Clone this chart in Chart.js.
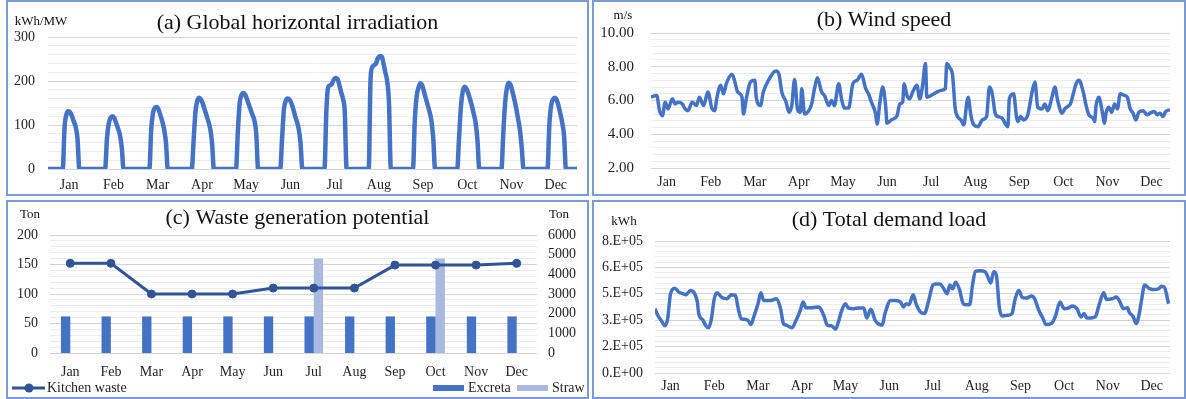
<!DOCTYPE html>
<html>
<head>
<meta charset="utf-8">
<script src="https://cdn.jsdelivr.net/npm/chart.js@4.4.1/dist/chart.umd.min.js"></script>
<style>
  html, body { margin: 0; padding: 0; background: #fff; }
  body { width: 1186px; height: 399px; position: relative; overflow: hidden; }
  .panel { position: absolute; box-sizing: border-box; border: 2px solid #7B9BD3; }
  .panel canvas { position: absolute; left: 0; top: 0; }
</style>
</head>
<body>
<div class="panel" style="left:6px;top:0;width:583px;height:196px"><canvas id="chartA" width="579" height="192"></canvas></div>
<div class="panel" style="left:592px;top:0;width:594px;height:196px"><canvas id="chartB" width="590" height="192"></canvas></div>
<div class="panel" style="left:6px;top:200px;width:583px;height:199px"><canvas id="chartC" width="579" height="195"></canvas></div>
<div class="panel" style="left:592px;top:200px;width:594px;height:199px"><canvas id="chartD" width="590" height="195"></canvas></div>
<script>
const months = ['Jan', 'Feb', 'Mar', 'Apr', 'May', 'Jun', 'Jul', 'Aug', 'Sep', 'Oct', 'Nov', 'Dec'];

// (a) typical-day irradiation for each month, hour 0..23 (kWh/MW)
const ghiJan = [0,0,0,0,0,0,0,0,0,95,124,131,129,120,108,96,70,0,0,0,0,0,0,0];
const ghiFeb = [0,0,0,0,0,0,0,0,70,104,117,120,116,104,92,78,50,0,0,0,0,0,0,0];
const ghiMar = [0,0,0,0,0,0,0,0,90,128,139,141,135,122,108,90,60,0,0,0,0,0,0,0];
const ghiApr = [0,0,0,0,0,0,0,65,130,155,162,158,148,135,122,108,92,60,0,0,0,0,0,0];
const ghiMay = [0,0,0,0,0,0,0,85,150,168,173,169,158,146,134,122,110,80,0,0,0,0,0,0];
const ghiJun = [0,0,0,0,0,0,0,70,135,155,160,158,150,137,122,108,92,60,0,0,0,0,0,0];
const ghiJul = [0,0,0,0,0,0,0,130,186,190,193,203,207,205,192,175,160,130,0,0,0,0,0,0];
const ghiAug = [0,0,0,0,0,0,0,205,232,236,240,252,256,256,240,220,200,150,0,0,0,0,0,0];
const ghiSep = [0,0,0,0,0,0,0,110,165,185,195,190,176,160,145,130,110,70,0,0,0,0,0,0];
const ghiOct = [0,0,0,0,0,0,0,70,140,176,187,183,172,158,143,125,105,65,0,0,0,0,0,0];
const ghiNov = [0,0,0,0,0,0,0,80,150,185,196,190,176,158,138,115,90,50,0,0,0,0,0,0];
const ghiDec = [0,0,0,0,0,0,0,0,100,145,158,162,157,143,125,105,75,0,0,0,0,0,0,0];

// (b) wind speed (m/s) by day of year
const windDay = [
  0, 4, 6, 8, 10, 12, 15, 17, 19, 22, 24, 26, 29, 32, 34, 37, 40, 43, 45, 46,
  49, 51, 53, 57, 59, 61, 64, 65, 67, 70, 73, 74, 77, 79, 83, 86, 88, 90, 92, 95,
  97, 99, 101, 103, 105, 106, 108, 111, 113, 115, 117, 120, 122, 125, 127, 129, 132, 134, 136, 139,
  142, 145, 148, 151, 153, 155, 158, 159, 161, 163, 165, 166, 169, 173, 175, 177, 178, 180, 182, 184,
  187, 189, 191, 193, 194, 197, 201, 204, 207, 208, 210, 212, 214, 216, 218, 220, 222, 223, 225, 227,
  230, 233, 236, 238, 240, 242, 244, 247, 249, 251, 252, 255, 257, 258, 260, 262, 265, 268, 270, 272,
  275, 277, 279, 282, 284, 286, 289, 291, 294, 295, 297, 299, 301, 304, 306, 308, 311, 312, 313, 315,
  317, 319, 320, 322, 324, 326, 328, 330, 333, 335, 337, 339, 341, 343, 346, 349, 351, 354, 356, 358,
  360, 362, 365
];
const windSpeed = [
  6.2, 6.3, 5.4, 5.1, 5.9, 5.5, 6.1, 5.8, 5.9, 5.8, 5.5, 5.4, 5.9, 5.7, 6.2, 5.7, 6.5, 5.5, 5.4, 6.0,
  6.9, 6.4, 7.0, 7.55, 7.1, 6.5, 6.2, 5.2, 6.1, 7.1, 7.2, 6.2, 5.7, 6.5, 7.25, 7.65, 7.75, 7.55, 6.5, 5.9,
  5.3, 5.7, 7.25, 5.5, 5.3, 6.7, 5.2, 5.4, 5.8, 6.7, 7.35, 6.5, 6.3, 5.7, 6.0, 5.7, 7.0, 6.1, 5.55, 5.55,
  7.0, 7.2, 7.55, 6.7, 6.4, 5.9, 5.2, 4.6, 5.9, 6.8, 5.7, 4.65, 4.85, 5.1, 5.8, 5.9, 7.0, 6.3, 6.1, 6.5,
  6.9, 6.1, 6.9, 8.2, 6.2, 6.3, 6.5, 6.6, 6.7, 8.2, 7.95, 7.55, 5.5, 5.0, 4.85, 4.55, 5.8, 6.2, 5.1, 4.55,
  4.45, 4.85, 5.05, 6.8, 6.4, 5.25, 5.05, 4.95, 4.65, 4.45, 6.1, 6.4, 5.05, 4.75, 5.05, 4.85, 5.15, 6.5, 7.1, 5.6,
  5.5, 5.8, 5.4, 6.2, 6.8, 6.0, 5.25, 5.5, 5.7, 5.8, 6.4, 7.0, 7.2, 6.5, 5.7, 5.15, 4.95, 4.75, 5.7, 6.2,
  5.5, 4.65, 5.25, 5.6, 5.3, 5.8, 5.5, 6.4, 6.3, 6.2, 5.5, 5.25, 4.85, 5.3, 5.4, 5.15, 5.25, 5.35, 5.15, 5.25,
  5.05, 5.35, 5.45
];

// (c) waste generation potential (Ton)
const kitchenWaste = [152, 152, 100, 100, 100, 110, 110, 110, 149, 149, 149, 152];
const excreta = [1860, 1860, 1860, 1860, 1860, 1860, 1860, 1860, 1860, 1860, 1860, 1860];
const straw = [null, null, null, null, null, null, 4800, null, null, 4800, null, null];

// (d) total demand load, in units of 1E+05 kWh, by day of year
const loadDay = [
  0, 2, 5, 7, 9, 11, 14, 17, 20, 22, 25, 27, 30, 31, 34, 36, 38, 40, 42, 44,
  47, 51, 54, 57, 59, 61, 63, 66, 68, 70, 73, 75, 77, 82, 86, 89, 91, 93, 97, 100,
  103, 105, 107, 111, 116, 118, 120, 122, 125, 128, 130, 132, 135, 137, 141, 144, 148, 150, 153, 156,
  158, 161, 163, 167, 170, 174, 176, 178, 180, 183, 185, 188, 191, 194, 197, 199, 202, 204, 207, 209,
  211, 213, 216, 218, 220, 223, 225, 227, 230, 234, 236, 238, 240, 242, 244, 246, 250, 253, 255, 258,
  260, 263, 267, 269, 272, 275, 277, 281, 284, 287, 290, 293, 296, 299, 302, 304, 306, 309, 312, 315,
  318, 320, 324, 327, 329, 332, 335, 336, 339, 341, 343, 345, 347, 350, 353, 357, 359, 361, 364
];
const loadE5 = [
  3.9, 3.5, 3.1, 2.86, 3.3, 4.8, 5.14, 4.9, 4.8, 4.74, 5.0, 4.94, 4.3, 3.6, 3.2, 2.86, 2.74, 3.3, 4.5, 4.86,
  4.6, 4.5, 4.74, 4.7, 3.9, 3.3, 3.26, 3.18, 2.94, 3.4, 4.2, 4.86, 4.4, 4.4, 4.5, 3.9, 3.0, 2.9, 2.74, 3.2,
  3.8, 4.3, 3.96, 3.96, 4.0, 3.8, 3.4, 2.9, 2.86, 2.66, 3.1, 3.7, 4.2, 3.94, 3.9, 3.94, 3.94, 3.34, 3.86, 3.2,
  3.0, 2.9, 3.6, 4.4, 4.4, 4.3, 4.0, 4.2, 4.14, 4.74, 4.2, 3.7, 3.6, 4.4, 5.34, 5.4, 5.4, 5.2, 4.8, 5.34,
  5.1, 5.5, 5.0, 4.3, 4.14, 4.14, 5.3, 6.14, 6.2, 6.14, 5.8, 5.46, 6.14, 5.9, 4.0, 3.46, 3.5, 3.6, 4.4, 5.0,
  4.6, 4.54, 4.66, 4.5, 3.8, 3.3, 2.94, 3.0, 3.5, 4.3, 3.9, 3.94, 4.06, 3.9, 3.4, 3.6, 3.34, 3.34, 3.4, 4.2,
  4.86, 4.46, 4.5, 4.6, 4.4, 3.9, 3.96, 3.7, 3.4, 3.0, 3.5, 4.5, 5.34, 5.14, 5.06, 5.1, 5.26, 5.2, 4.2
];
const loadTickLabels = ['0.E+00', '2.E+05', '3.E+05', '5.E+05', '6.E+05', '8.E+05'];

const serif = "'Liberation Serif', 'Times New Roman', serif";
Chart.defaults.font.family = serif;
Chart.defaults.font.size = 14;
Chart.defaults.color = '#1f1f1f';
Chart.defaults.animation = false;

const BLUE = '#4472C4';
const MAJOR = '#D4D4D4', MINOR = '#ECECEC';

function onStep(v, step) {
  let r = v / step;
  return Math.abs(r - Math.round(r)) < 1e-6;
}

// title + unit labels drawn above the plot
const panelText = {
  id: 'panelText',
  afterDraw(chart, args, o) {
    let c = chart.ctx;
    c.save();
    c.fillStyle = '#111';
    c.textAlign = 'center';
    c.textBaseline = 'middle';
    c.font = '22px ' + serif;
    c.fillText(o.title, chart.width / 2 + (o.dx || 0), o.y);
    c.font = '13px ' + serif;
    o.units.forEach(u => c.fillText(u.text, u.x, u.y));
    c.restore();
  }
};

// legend of panel (c): line on the left, bars on the right
const wasteLegend = {
  id: 'wasteLegend',
  afterDraw(chart) {
    let c = chart.ctx, ds = chart.data.datasets, y = 186;
    c.save();
    c.font = '14px ' + serif;
    c.textBaseline = 'middle';
    c.textAlign = 'left';
    c.strokeStyle = ds[0].borderColor;
    c.lineWidth = 3;
    c.beginPath(); c.moveTo(4, y); c.lineTo(37, y); c.stroke();
    c.fillStyle = ds[0].backgroundColor;
    c.beginPath(); c.arc(21, y, 4.5, 0, Math.PI * 2); c.fill();
    c.fillStyle = '#1f1f1f';
    c.fillText(ds[0].label, 39, y);
    [[1, 425], [2, 509]].forEach(([i, x]) => {
      c.fillStyle = ds[i].backgroundColor;
      c.fillRect(x, y - 3, 31, 6);
      c.fillStyle = '#1f1f1f';
      c.fillText(ds[i].label, x + 35, y);
    });
    c.restore();
  }
};

function yAxis(min, max, minor, major, width, pad, label, size) {
  return {
    min: min, max: max,
    border: { display: false },
    grid: { drawTicks: false, color: ctx => onStep(ctx.tick.value, major) ? MAJOR : MINOR },
    ticks: { stepSize: minor, padding: pad, autoSkip: false, font: { size: size || 14 }, callback: label },
    afterFit: s => { s.width = width; }
  };
}

function monthAxis(max, tickAt, height, pad) {
  return {
    type: 'linear', min: 0, max: max,
    border: { display: false },
    grid: { display: false, drawTicks: false },
    afterBuildTicks: s => { s.ticks = months.map((m, i) => ({ value: tickAt(i) })); },
    ticks: { autoSkip: false, maxRotation: 0, padding: pad, callback: (v, i) => months[i] },
    afterFit: s => { s.height = height; }
  };
}

// (a) Global horizontal irradiation
let ghiMonths = [ghiJan, ghiFeb, ghiMar, ghiApr, ghiMay, ghiJun, ghiJul, ghiAug, ghiSep, ghiOct, ghiNov, ghiDec];
let ghiPoints = [];
ghiMonths.forEach((day, m) => day.forEach((v, h) => ghiPoints.push({ x: m * 24 + h, y: v })));

new Chart(document.getElementById('chartA'), {
  type: 'line',
  data: { datasets: [{ data: ghiPoints, borderColor: BLUE, borderWidth: 4.5, pointRadius: 0,
    cubicInterpolationMode: 'monotone', borderJoinStyle: 'round', borderCapStyle: 'round' }] },
  options: {
    responsive: false,
    layout: { padding: { top: 35, right: 10 } },
    plugins: {
      legend: { display: false }, tooltip: { enabled: false },
      panelText: { title: '(a) Global horizontal irradiation', y: 21,
        units: [{ text: 'kWh/MW', x: 33, y: 20 }] }
    },
    scales: {
      x: monthAxis(287, i => i * 24 + 11.5, 25, 8),
      y: yAxis(0, 300, 20, 100, 40, 13, v => onStep(v, 100) ? v : '')
    }
  },
  plugins: [panelText]
});

// (b) Wind speed
new Chart(document.getElementById('chartB'), {
  type: 'line',
  data: { datasets: [{ data: windDay.map((d, i) => ({ x: d, y: windSpeed[i] })), borderColor: BLUE,
    borderWidth: 3.5, pointRadius: 0, cubicInterpolationMode: 'monotone', borderJoinStyle: 'round' }] },
  options: {
    responsive: false,
    layout: { padding: { top: 31, right: 14 } },
    plugins: {
      legend: { display: false }, tooltip: { enabled: false },
      panelText: { title: '(b) Wind speed', dx: -5, y: 18, units: [{ text: 'm/s', x: 29, y: 14 }] }
    },
    scales: {
      x: monthAxis(365, i => 11 + i * 31, 23, 6),
      y: yAxis(2, 10, 0.4, 2, 57, 17, v => onStep(v, 2) ? v.toFixed(2) : '', 15)
    }
  },
  plugins: [panelText]
});

// (c) Waste generation potential
new Chart(document.getElementById('chartC'), {
  type: 'bar',
  data: {
    labels: months,
    datasets: [
      { type: 'line', label: 'Kitchen waste', data: kitchenWaste, yAxisID: 'y', order: 0,
        borderColor: '#2F5597', backgroundColor: '#2F5597', borderWidth: 3,
        pointRadius: 4, pointBorderWidth: 1, pointBackgroundColor: '#2F5597' },
      { label: 'Excreta', data: excreta, yAxisID: 'y2', order: 1, backgroundColor: BLUE,
        categoryPercentage: 0.46, barPercentage: 1 },
      { label: 'Straw', data: straw, yAxisID: 'y2', order: 1, backgroundColor: '#A9B9E0',
        categoryPercentage: 0.46, barPercentage: 1 }
    ]
  },
  options: {
    responsive: false,
    layout: { padding: { top: 33 } },
    plugins: {
      legend: { display: false }, tooltip: { enabled: false },
      panelText: { title: '(c) Waste generation potential', y: 16,
        units: [{ text: 'Ton', x: 22, y: 13 }, { text: 'Ton', x: 551, y: 13 }] }
    },
    scales: {
      x: { border: { display: false }, grid: { display: false, drawTicks: false },
        ticks: { padding: 11, maxRotation: 0 }, afterFit: s => { s.height = 44; } },
      y: yAxis(0, 200, 10, 50, 42, 12, v => onStep(v, 50) ? v : ''),
      y2: { position: 'right', min: 0, max: 6000, border: { display: false },
        grid: { display: false, drawTicks: false },
        ticks: { stepSize: 1000, padding: 11, autoSkip: false, callback: v => String(v) },
        afterFit: s => { s.width = 50; } }
    }
  },
  plugins: [panelText, wasteLegend]
});

// (d) Total demand load
new Chart(document.getElementById('chartD'), {
  type: 'line',
  data: { datasets: [{ data: loadDay.map((d, i) => ({ x: d, y: loadE5[i] * 1e5 })), borderColor: BLUE,
    borderWidth: 3.5, pointRadius: 0, cubicInterpolationMode: 'monotone', borderJoinStyle: 'round' }] },
  options: {
    responsive: false,
    layout: { padding: { top: 39, right: 14 } },
    plugins: {
      legend: { display: false }, tooltip: { enabled: false },
      panelText: { title: '(d) Total demand load', y: 18.5, units: [{ text: 'kWh', x: 30, y: 20 }] }
    },
    scales: {
      x: monthAxis(365, i => 11 + i * 31, 24, 5),
      y: yAxis(0, 800000, 32000, 160000, 61, 12,
        v => onStep(v, 160000) ? loadTickLabels[Math.round(v / 160000)] : '')
    }
  },
  plugins: [panelText]
});
</script>
</body>
</html>
